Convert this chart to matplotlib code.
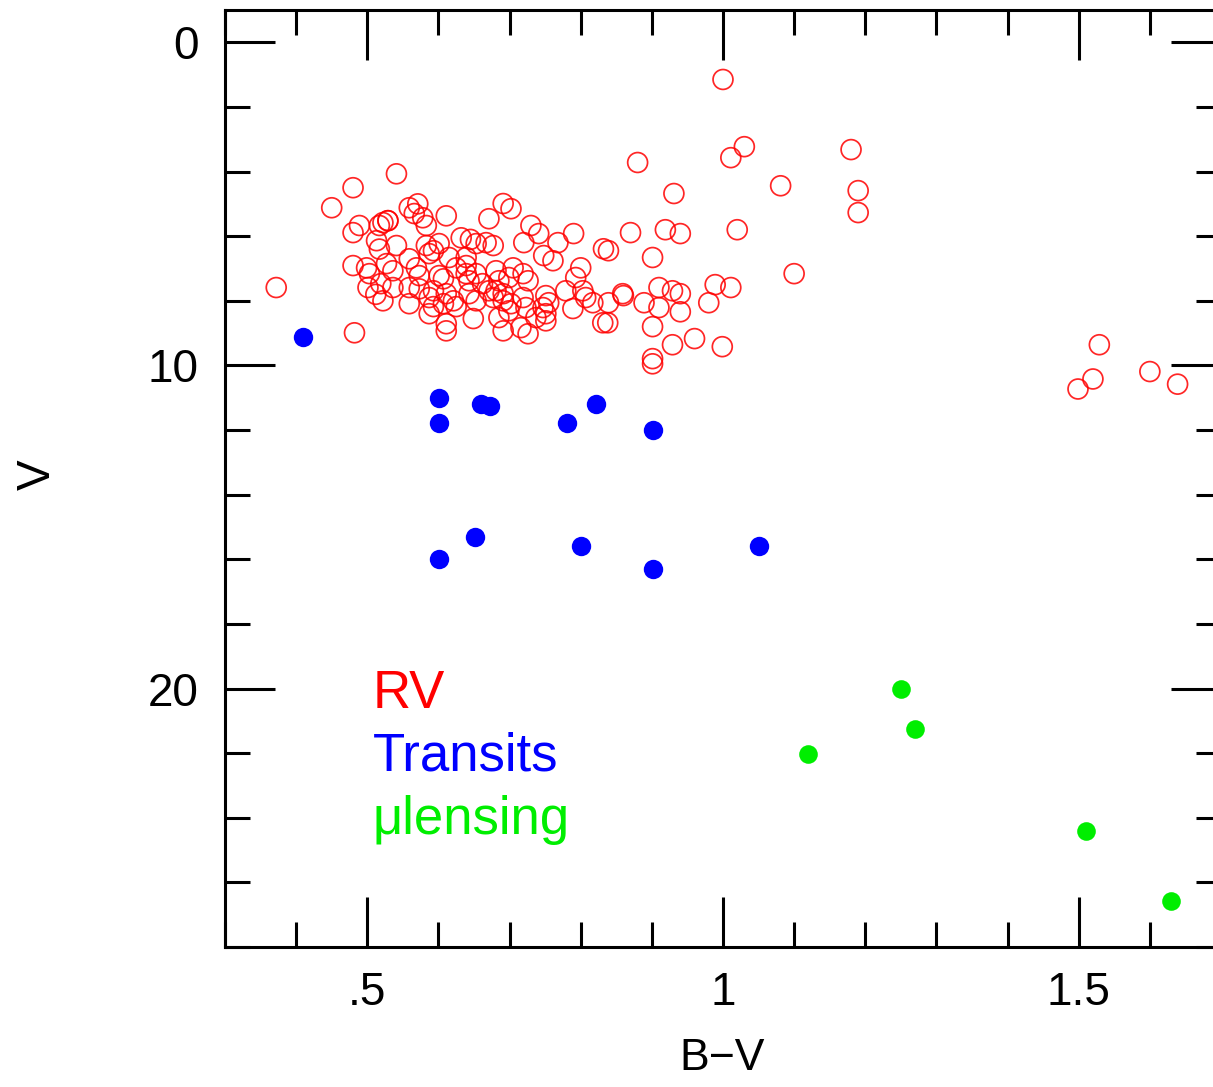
import numpy as np
import matplotlib
matplotlib.use('Agg')
import matplotlib.pyplot as plt
from matplotlib.ticker import MultipleLocator

plt.rcParams['font.family'] = ['Liberation Sans', 'DejaVu Sans']

# RV planets: (B-V, V)
rv_bv = [1.000, 1.030, 1.011, 1.180, 0.880, 0.931, 1.081, 1.190, 1.190, 0.870,
         0.919, 0.940, 1.020, 0.901, 1.100, 0.989, 1.011, 0.910, 0.929, 0.940,
         0.980, 0.889, 0.910, 0.940, 0.901, 0.860, 0.832, 0.839, 0.839, 0.831,
         0.838, 0.929, 0.960, 0.999, 0.901, 0.901,
         0.691, 0.702, 0.730, 0.741, 0.790, 0.720, 0.768, 0.748, 0.761, 0.800,
         0.793, 0.705, 0.719, 0.726, 0.699, 0.779, 0.803, 0.807, 0.817, 0.859,
         0.751, 0.755, 0.747, 0.789, 0.681, 0.691, 0.702, 0.719, 0.723, 0.685,
         0.699, 0.751, 0.751, 0.691, 0.716, 0.726, 0.737, 0.632, 0.645,
         0.541, 0.559, 0.571, 0.566, 0.611, 0.583, 0.578, 0.529, 0.671, 0.667,
         0.653, 0.677, 0.541, 0.583, 0.601, 0.559, 0.587, 0.593, 0.615, 0.639,
         0.625, 0.639, 0.527, 0.536, 0.569, 0.573, 0.601, 0.607, 0.639, 0.643,
         0.653, 0.681, 0.662, 0.685, 0.536, 0.559, 0.573, 0.593, 0.611, 0.621,
         0.607, 0.625, 0.643, 0.653, 0.671, 0.677, 0.559, 0.587, 0.593, 0.587,
         0.522, 0.649, 0.611, 0.611, 0.691,
         0.480, 0.450, 0.489, 0.480, 0.513, 0.517, 0.522, 0.529, 0.517, 0.480,
         0.499, 0.503, 0.501, 0.512, 0.519, 0.372, 0.482,
         1.529, 1.520, 1.499, 1.600, 1.639]
rv_v = [1.15, 3.23, 3.57, 3.32, 3.72, 4.68, 4.44, 4.59, 5.27, 5.89,
        5.80, 5.92, 5.80, 6.66, 7.16, 7.50, 7.59, 7.59, 7.69, 7.78,
        8.06, 8.06, 8.21, 8.34, 8.80, 7.84, 6.39, 6.45, 8.06, 8.68,
        8.68, 9.36, 9.17, 9.42, 9.79, 9.95,
        4.99, 5.15, 5.67, 5.92, 5.92, 6.20, 6.20, 6.60, 6.76, 6.98,
        7.28, 6.98, 7.16, 7.38, 7.28, 7.69, 7.69, 7.90, 8.06, 7.78,
        7.84, 8.06, 8.21, 8.24, 7.69, 8.00, 8.09, 7.90, 8.21, 8.52,
        8.31, 8.40, 8.62, 8.93, 8.83, 9.02, 8.52, 6.05, 6.10,
        4.07, 5.12, 5.00, 5.30, 5.37, 5.67, 5.43, 5.52, 5.46, 6.20,
        6.23, 6.29, 6.29, 6.29, 6.23, 6.70, 6.54, 6.45, 6.66, 6.66,
        6.98, 6.91, 6.85, 7.07, 6.98, 7.22, 7.22, 7.32, 7.16, 7.38,
        7.16, 7.07, 7.47, 7.38, 7.59, 7.59, 7.63, 7.69, 7.78, 8.00,
        8.09, 8.18, 7.78, 8.00, 7.69, 7.90, 8.09, 7.90, 8.18, 8.40,
        8.00, 8.55, 8.71, 8.93, 7.78,
        4.50, 5.12, 5.67, 5.89, 6.14, 5.67, 5.58, 5.52, 6.40, 6.91,
        6.98, 7.16, 7.59, 7.80, 7.47, 7.59, 8.99,
        9.36, 10.42, 10.73, 10.19, 10.58]

# transiting planets
tr_bv = [0.410, 0.601, 0.601, 0.660, 0.673, 0.781, 0.821, 0.901,
         0.651, 0.601, 0.800, 0.901, 1.051]
tr_v = [9.12, 11.00, 11.78, 11.19, 11.25, 11.78, 11.19, 11.99,
        15.30, 15.98, 15.58, 16.29, 15.58]

# microlensing planets
ml_bv = [1.250, 1.270, 1.120, 1.510, 1.630]
ml_v = [20.01, 21.25, 22.02, 24.40, 26.57]

labels = ['RV', 'Transits', '\u03bclensing']
label_colors = ['#ff0000', '#0000ff', '#00ee00']
label_v = [20.6, 22.55, 24.5]

fig = plt.figure(figsize=(12.13, 10.87), dpi=100)
ax = fig.add_axes([225/1213, 140/1087, 996/1213, 937/1087])

ax.scatter(rv_bv, rv_v, s=205, facecolors='none', edgecolors='#ff0000',
           linewidths=1.25, alpha=0.85, zorder=3)
ax.scatter(tr_bv, tr_v, s=195, color='#0000ff', linewidths=0, zorder=4)
ax.scatter(ml_bv, ml_v, s=180, color='#00ee00', linewidths=0, zorder=4)

for lab, col, v in zip(labels, label_colors, label_v):
    ax.text(0.508, v, lab, color=col, fontsize=38, va='baseline', ha='left')

ax.set_xlim(0.3, 1.7)
ax.set_ylim(28, -1)

ax.set_xticks([0.5, 1.0, 1.5])
ax.set_xticklabels(['.5', '1', '1.5'])
ax.xaxis.set_minor_locator(MultipleLocator(0.1))
ax.set_yticks([0, 10, 20])
ax.yaxis.set_minor_locator(MultipleLocator(2))

ax.tick_params(which='both', direction='in', top=True, right=True,
               width=2.2, labelsize=33)
ax.tick_params(which='major', length=36)
ax.tick_params(which='minor', length=18)
ax.tick_params(axis='x', pad=17)
ax.tick_params(axis='y', pad=19)
for sp in ax.spines.values():
    sp.set_linewidth(2.2)

ax.set_xlabel('B\u2212V', fontsize=32)
ax.xaxis.set_label_coords(0.499, -0.097)
ax.set_ylabel('V', fontsize=33)
ax.yaxis.set_label_coords(-0.166, 0.504)

fig.savefig('out.png', dpi=100)
